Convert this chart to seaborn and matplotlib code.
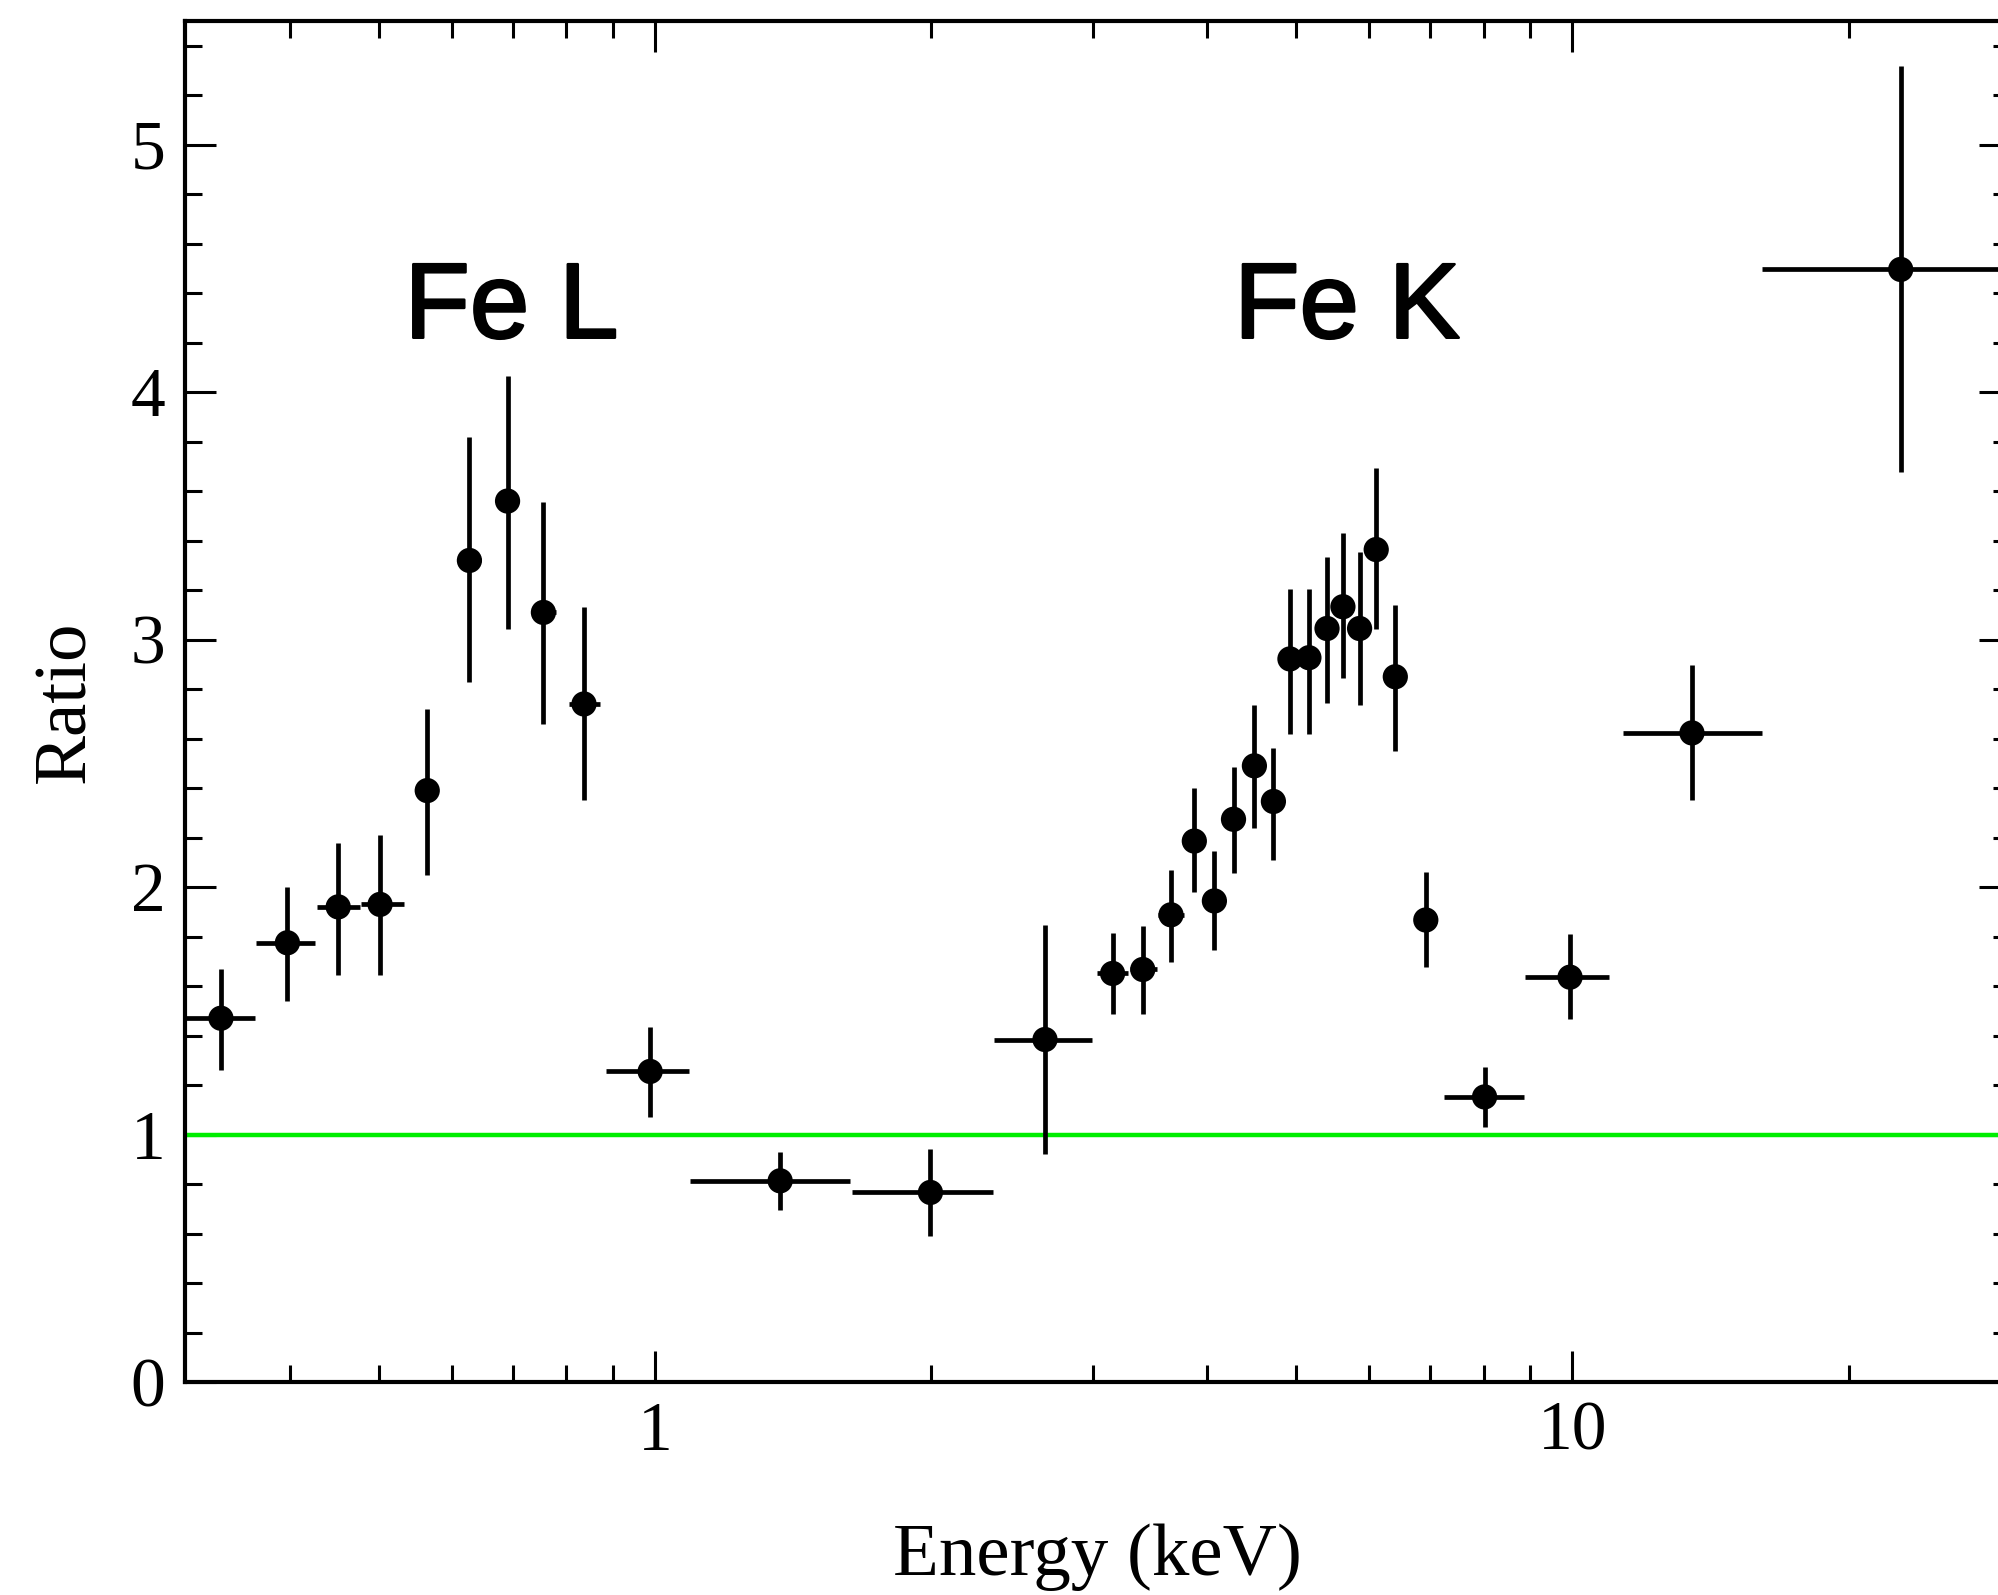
import numpy as np
import pandas as pd
import matplotlib
matplotlib.use("Agg")
import matplotlib.pyplot as plt
import matplotlib.ticker as mticker
import matplotlib.patheffects as pe
import seaborn as sns

# ---- data ----
energy = [0.336, 0.397, 0.451, 0.501, 0.564, 0.627, 0.690, 0.755, 0.836, 0.987,
          1.368, 1.995, 2.66, 3.152, 3.40, 3.65, 3.87, 4.07, 4.27, 4.50,
          4.72, 4.92, 5.16, 5.40, 5.62, 5.86, 6.11, 6.41, 6.92, 8.02,
          9.94, 13.5, 22.8]
ratio = [1.47, 1.775, 1.92, 1.93, 2.39, 3.32, 3.56, 3.11, 2.74, 1.255,
         0.813, 0.766, 1.384, 1.651, 1.667, 1.888, 2.186, 1.944, 2.274, 2.49,
         2.346, 2.922, 2.927, 3.045, 3.133, 3.045, 3.364, 2.85, 1.867, 1.152,
         1.636, 2.623, 4.496]
energy_lo = [0.306, 0.367, 0.428, 0.477, 0.55, 0.61, 0.672, 0.735, 0.805, 0.883,
             1.09, 1.64, 2.34, 3.03, 3.29, 3.53, 3.78, 3.98, 4.18, 4.39,
             4.62, 4.83, 5.05, 5.29, 5.52, 5.75, 5.99, 6.26, 6.75, 7.24,
             8.88, 11.36, 16.1]
energy_hi = [0.366, 0.426, 0.476, 0.532, 0.58, 0.645, 0.71, 0.78, 0.87, 1.087,
             1.63, 2.334, 2.995, 3.28, 3.52, 3.77, 3.97, 4.17, 4.38, 4.61,
             4.82, 5.04, 5.28, 5.51, 5.74, 5.98, 6.25, 6.56, 7.10, 8.86,
             10.97, 16.1, 35.0]
ratio_lo = [1.26, 1.54, 1.645, 1.645, 2.05, 2.83, 3.045, 2.66, 2.35, 1.07,
            0.694, 0.592, 0.921, 1.487, 1.487, 1.698, 1.98, 1.744, 2.058, 2.238,
            2.109, 2.618, 2.62, 2.742, 2.845, 2.737, 3.045, 2.551, 1.677, 1.029,
            1.466, 2.351, 3.678]
ratio_hi = [1.67, 2.00, 2.18, 2.21, 2.72, 3.82, 4.065, 3.555, 3.13, 1.435,
            0.931, 0.941, 1.847, 1.816, 1.842, 2.068, 2.402, 2.145, 2.485, 2.737,
            2.562, 3.205, 3.205, 3.333, 3.431, 3.354, 3.693, 3.138, 2.063, 1.271,
            1.811, 2.896, 5.319]
model_level = 1.0
annotations = ["Fe L", "Fe K"]
annotation_x = [0.697, 5.68]
annotation_y = [4.22, 4.22]
x_tick_labels = ["1", "10"]
x_major = [1, 10]

df = pd.DataFrame({"energy": energy, "ratio": ratio,
                   "elo": energy_lo, "ehi": energy_hi,
                   "rlo": ratio_lo, "rhi": ratio_hi})

sns.set_theme(style="ticks")
plt.rcParams["font.family"] = ["Liberation Serif", "DejaVu Serif"]
plt.rcParams["text.color"] = "black"
plt.rcParams["axes.labelcolor"] = "black"

fig = plt.figure(figsize=(19.98, 15.95), dpi=100)
ax = fig.add_axes([185/1998, 1 - 1382/1595, (2010-185)/1998, (1382-21)/1595])

ax.set_xscale("log")
ax.set_xlim(0.307, 30)
ax.set_ylim(0, 5.5)

ax.axhline(model_level, color="#00ee00", lw=3.2, zorder=1)

xerr = np.vstack([df["energy"] - df["elo"], df["ehi"] - df["energy"]])
yerr = np.vstack([df["ratio"] - df["rlo"], df["rhi"] - df["ratio"]])
ax.errorbar(df["energy"], df["ratio"], xerr=xerr, yerr=yerr, fmt="none",
            ecolor="black", elinewidth=3.4, capsize=0, zorder=2)
sns.scatterplot(data=df, x="energy", y="ratio", ax=ax, color="black",
                s=330, edgecolor="none", zorder=3, legend=False)

for t, xx, yy in zip(annotations, annotation_x, annotation_y):
    ax.text(xx, yy, t, ha="center", va="baseline", fontsize=77,
            family=["Liberation Sans", "DejaVu Sans"], fontweight="normal",
            color="black",
            path_effects=[pe.withStroke(linewidth=1.8, foreground="black")])

ax.xaxis.set_major_locator(mticker.FixedLocator(x_major))
ax.xaxis.set_major_formatter(mticker.FixedFormatter(x_tick_labels))
ax.xaxis.set_minor_locator(mticker.LogLocator(base=10, subs=np.arange(2, 10), numticks=20))
ax.xaxis.set_minor_formatter(mticker.NullFormatter())
ax.yaxis.set_major_locator(mticker.MultipleLocator(1))
ax.yaxis.set_minor_locator(mticker.MultipleLocator(0.2))

ax.tick_params(which="both", direction="in", top=True, right=True,
               labelsize=50, pad=14, color="black", labelcolor="black")
ax.tick_params(which="major", length=22, width=2.2)
ax.tick_params(which="minor", length=12, width=2.2)

for s in ax.spines.values():
    s.set_linewidth(3)
    s.set_color("black")

ax.set_xlabel("Energy (keV)", fontsize=54, labelpad=42, color="black")
ax.set_ylabel("Ratio", fontsize=54, labelpad=22, color="black")
ax.grid(False)

fig.savefig("out.png", dpi=100, facecolor="white")
